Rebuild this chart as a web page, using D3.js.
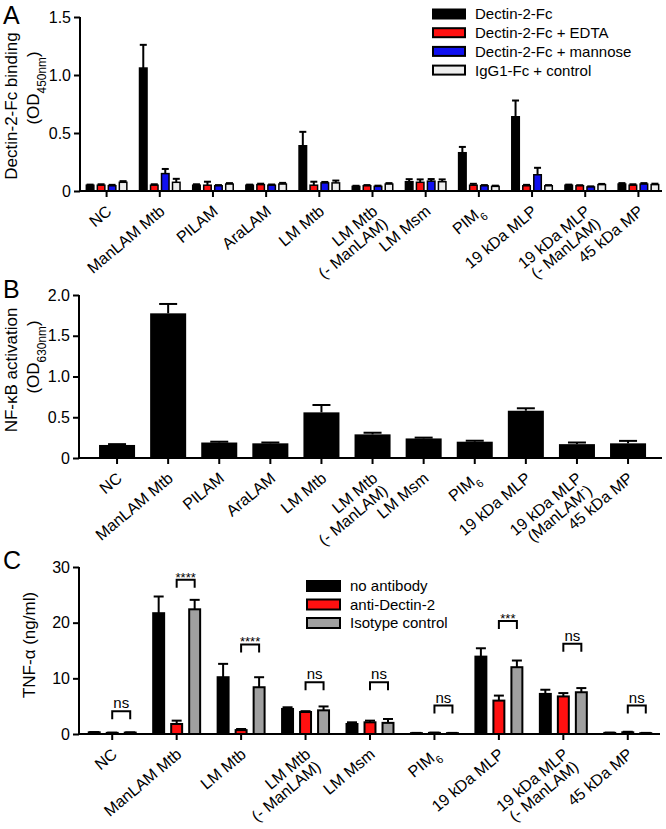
<!DOCTYPE html>
<html><head><meta charset="utf-8">
<script src="https://cdn.jsdelivr.net/npm/d3@7"></script>
<style>body{margin:0;background:#fff}</style>
</head><body><svg id="c" width="666" height="829"></svg>
<script>
// ---------- DATA ----------
const catsA = ["NC","ManLAM Mtb","PILAM","AraLAM","LM Mtb","LM Mtb|(- ManLAM)","LM Msm","PIM_{6}","19 kDa MLP","19 kDa MLP|(- ManLAM)","45 kDa MP"];
const seriesA = ["Dectin-2-Fc","Dectin-2-Fc + EDTA","Dectin-2-Fc + mannose","IgG1-Fc + control"];
const dectin     = [0.05, 1.06, 0.05, 0.05, 0.39, 0.04, 0.08, 0.33, 0.64, 0.05, 0.06];
const dectinErr  = [0.005,0.20, 0.008,0.005,0.12, 0.005,0.022,0.05, 0.14, 0.005,0.008];
const edta       = [0.05, 0.05, 0.05, 0.055,0.05, 0.045,0.075,0.05, 0.045,0.045,0.05];
const edtaErr    = [0.008,0.008,0.03, 0.008,0.03, 0.006,0.025,0.012,0.008,0.005,0.008];
const mannose    = [0.045,0.15, 0.045,0.05, 0.07, 0.04, 0.085,0.045,0.14, 0.035,0.06];
const mannoseErr = [0.008,0.04, 0.006,0.006,0.008,0.006,0.018,0.006,0.06, 0.005,0.008];
const igg        = [0.075,0.075,0.06, 0.06, 0.07, 0.06, 0.08, 0.04, 0.045,0.055,0.055];
const iggErr     = [0.01, 0.03, 0.008,0.01, 0.02, 0.008,0.02, 0.006,0.006,0.006,0.008];
const yTicksA = [0, 0.5, 1.0, 1.5];
const yTickLabelsA = ["0","0.5","1.0","1.5"];

const catsB = ["NC","ManLAM Mtb","PILAM","AraLAM","LM Mtb","LM Mtb|(- ManLAM)","LM Msm","PIM_{6}","19 kDa MLP","19 kDa MLP|(ManLAM^{-})","45 kDa MP"];
const nfkb    = [0.16, 1.775,0.19, 0.18, 0.56, 0.29, 0.24, 0.20, 0.58, 0.17, 0.18];
const nfkbErr = [0.01, 0.115,0.01, 0.01, 0.09, 0.02, 0.01, 0.012,0.03, 0.02, 0.03];
const yTicksB = [0, 0.5, 1.0, 1.5, 2.0];
const yTickLabelsB = ["0","0.5","1.0","1.5","2.0"];

const catsC = ["NC","ManLAM Mtb","LM Mtb","LM Mtb|(- ManLAM)","LM Msm","PIM_{6}","19 kDa MLP","19 kDa MLP|(- ManLAM)","45 kDa MP"];
const seriesC = ["no antibody","anti-Dectin-2","Isotype control"];
const noAb     = [0.3, 21.7, 10.2, 4.5, 1.8, 0.15, 13.9, 7.2, 0.2];
const noAbErr  = [0.05, 3.0, 2.4, 0.3, 0.3, 0.05, 1.5, 0.75, 0.05];
const antiD    = [0.2, 1.8, 0.7, 3.95, 2.1, 0.2, 6.0, 6.75, 0.3];
const antiDErr = [0.05, 0.6, 0.2, 0.15, 0.3, 0.05, 0.9, 0.6, 0.1];
const iso      = [0.25, 22.4, 8.4, 4.25, 2.0, 0.15, 12.0, 7.5, 0.15];
const isoErr   = [0.05, 1.7, 1.8, 0.7, 0.7, 0.05, 1.2, 0.75, 0.05];
const sigLabels = ["ns","****","****","ns","ns","ns","***","ns","ns"];
const sigLevel  = [4.1, 27.7, 16.1, 9.3, 9.3, 5.1, 20.3, 16.2, 5.1];
const yTicksC = [0, 10, 20, 30];
const yTickLabelsC = ["0","10","20","30"];

// ---------- DRAW ----------
const FONT = "Arial, 'Liberation Sans', Helvetica, sans-serif";
const svg = d3.select("#c").attr("font-family", FONT);

function rich(sel, str) {
  str.split(/([_^]\{[^}]*\})/).filter(s => s.length).forEach(p => {
    if (p[0] === "_" || p[0] === "^") {
      sel.append("tspan").attr("baseline-shift", p[0] === "_" ? "sub" : "super")
        .attr("font-size", "70%").text(p.slice(2, -1));
    } else sel.append("tspan").text(p);
  });
}

function panel(o) {
  const g = svg.append("g");
  const y = d3.scaleLinear().domain(o.yDomain).range([o.bottom, o.top]);
  const x = d3.scaleBand().domain(o.cats).range(o.xRange).paddingInner(o.pad).paddingOuter(o.pad / 2);
  const xs = d3.scaleBand().domain(o.series.map(s => s.name)).range([-o.groupW / 2, o.groupW / 2])
    .paddingInner(o.innerPad).paddingOuter(o.innerPad / 2);
  const bw = o.series.length > 1 ? xs.bandwidth() : x.bandwidth();
  const cx = (c, s) => x(c) + x.bandwidth() / 2 + (o.series.length > 1 ? xs(s) + xs.bandwidth() / 2 : 0);

  // error bars
  o.series.forEach(s => {
    const eg = g.append("g").attr("stroke", "#000").attr("stroke-width", o.errW).attr("fill", "none");
    o.cats.forEach((c, i) => {
      const xc = cx(c, s.name), yt = y(s.values[i]), ye = y(s.values[i] + s.errs[i]);
      eg.append("line").attr("x1", xc).attr("x2", xc).attr("y1", yt).attr("y2", ye);
      eg.append("line").attr("x1", xc - o.cap / 2).attr("x2", xc + o.cap / 2).attr("y1", ye).attr("y2", ye);
    });
  });
  // bars
  o.series.forEach(s => {
    g.append("g").selectAll("rect").data(s.values).join("rect")
      .attr("x", (d, i) => cx(o.cats[i], s.name) - bw / 2 + o.barStroke / 2)
      .attr("width", bw - o.barStroke)
      .attr("y", d => y(d))
      .attr("height", d => o.bottom - y(d))
      .attr("fill", s.color)
      .attr("stroke", "#000").attr("stroke-width", o.barStroke);
  });

  // y axis
  const ya = g.append("g").attr("transform", `translate(${o.axisX},0)`)
    .call(d3.axisLeft(y).tickValues(o.yTicks).tickFormat((d, i) => o.yTickLabels[i])
      .tickSize(6).tickPadding(3).tickSizeOuter(0));
  ya.selectAll("path,line").attr("stroke", "#000").attr("stroke-width", 2);
  ya.selectAll("text").attr("font-size", 16).attr("fill", "#000").attr("font-family", FONT);
  ya.select(".domain").attr("d", `M0,${o.bottom + 1}V${o.top}`);

  // x axis line + ticks
  g.append("line").attr("x1", o.axisX - 1).attr("x2", o.xEnd).attr("y1", o.bottom).attr("y2", o.bottom)
    .attr("stroke", "#000").attr("stroke-width", 2);
  const xa = g.append("g").attr("transform", `translate(0,${o.bottom})`)
    .call(d3.axisBottom(x).tickSize(6).tickSizeOuter(0).tickFormat(""));
  xa.select(".domain").remove();
  xa.selectAll("line").attr("stroke", "#000").attr("stroke-width", 2);

  // category labels
  o.cats.forEach(c => {
    const lg = g.append("g")
      .attr("transform", `translate(${x(c) + x.bandwidth() / 2 + 6},${o.bottom + 22}) rotate(-40)`);
    c.split("|").forEach((line, li) => {
      const t = lg.append("text").attr("text-anchor", "end").attr("y", li * 16)
        .attr("font-size", 16).attr("fill", "#000");
      rich(t, line);
    });
  });

  // y title
  o.titles.forEach(tt => {
    const t = g.append("text").attr("text-anchor", "middle").attr("font-size", 17).attr("fill", "#000")
      .attr("transform", `translate(${tt.x},${tt.y}) rotate(-90)`);
    rich(t, tt.text);
  });

  // panel letter
  g.append("text").attr("x", 3).attr("y", o.letterY).attr("font-size", 25).attr("fill", "#000").text(o.letter);

  // legend
  if (o.legend) {
    o.series.forEach((s, i) => {
      const yy = o.legend.y + i * o.legend.step;
      g.append("rect").attr("x", o.legend.x).attr("y", yy - o.legend.h / 2)
        .attr("width", o.legend.w).attr("height", o.legend.h)
        .attr("fill", s.color).attr("stroke", "#000").attr("stroke-width", 2);
      g.append("text").attr("x", o.legend.x + o.legend.w + 10).attr("y", yy).attr("dy", "0.36em")
        .attr("font-size", 15).attr("fill", "#000").text(s.name);
    });
  }
  return { g, x, y, xs, cx };
}

// Panel A
panel({
  cats: catsA, letter: "A", letterY: 24,
  series: [
    { name: seriesA[0], values: dectin, errs: dectinErr, color: "#000" },
    { name: seriesA[1], values: edta, errs: edtaErr, color: "#ff1010" },
    { name: seriesA[2], values: mannose, errs: mannoseErr, color: "#1010f0" },
    { name: seriesA[3], values: igg, errs: iggErr, color: "#eeeeee" }
  ],
  yDomain: [0, 1.5], yTicks: yTicksA, yTickLabels: yTickLabelsA,
  top: 17, bottom: 191, axisX: 80, xRange: [80, 665], xEnd: 662, pad: 0.17,
  groupW: 44, innerPad: 0.18, cap: 7, errW: 2, barStroke: 1.5,
  titles: [{ x: 17, y: 106, text: "Dectin-2-Fc binding" }, { x: 39, y: 88, text: "(OD_{450nm})" }],
  legend: { x: 433, y: 14, step: 18.7, w: 32, h: 9 }
});

// Panel B
panel({
  cats: catsB, letter: "B", letterY: 298,
  series: [{ name: "NF-κB", values: nfkb, errs: nfkbErr, color: "#000" }],
  yDomain: [0, 2.0], yTicks: yTicksB, yTickLabels: yTickLabelsB,
  top: 295, bottom: 458, axisX: 79, xRange: [91.5, 653.6], xEnd: 662, pad: 0.295,
  groupW: 36, innerPad: 0, cap: 18, errW: 2, barStroke: 0,
  titles: [{ x: 17, y: 370, text: "NF-κB activation" }, { x: 39, y: 357, text: "(OD_{630nm})" }]
});

// Panel C
const pc = panel({
  cats: catsC, letter: "C", letterY: 569,
  series: [
    { name: seriesC[0], values: noAb, errs: noAbErr, color: "#000" },
    { name: seriesC[1], values: antiD, errs: antiDErr, color: "#ff1010" },
    { name: seriesC[2], values: iso, errs: isoErr, color: "#a0a0a0" }
  ],
  yDomain: [0, 30], yTicks: yTicksC, yTickLabels: yTickLabelsC,
  top: 567, bottom: 734, axisX: 79, xRange: [80, 660], xEnd: 660, pad: 0.2,
  groupW: 54, innerPad: 0.28, cap: 10, errW: 2, barStroke: 2,
  titles: [{ x: 35, y: 645, text: "TNF-α (ng/ml)" }],
  legend: { x: 307, y: 586, step: 18.5, w: 33, h: 10 }
});

// significance brackets
catsC.forEach((c, i) => {
  const x1 = pc.cx(c, seriesC[1]), x2 = pc.cx(c, seriesC[2]);
  const yb = pc.y(sigLevel[i]);
  pc.g.append("path").attr("d", `M${x1},${yb + 8}V${yb}H${x2}V${yb + 8}`)
    .attr("fill", "none").attr("stroke", "#000").attr("stroke-width", 2);
  const star = sigLabels[i] !== "ns";
  pc.g.append("text").attr("x", (x1 + x2) / 2).attr("y", star ? yb + 2 : yb - 3)
    .attr("text-anchor", "middle").attr("font-size", star ? 13 : 15).attr("fill", "#000")
    .text(sigLabels[i]);
});
</script>
</body></html>
